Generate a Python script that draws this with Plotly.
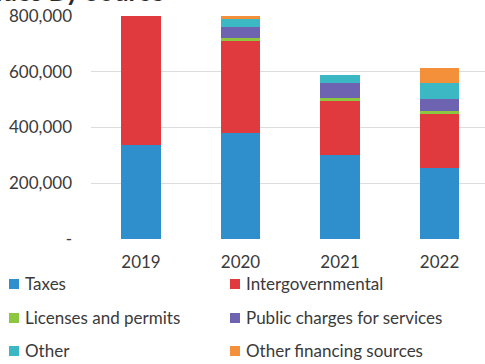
import plotly.graph_objects as go

# Revenue by source, stacked by fiscal year
years = ["2019", "2020", "2021", "2022"]
taxes = [337000, 380000, 301000, 255000]
intergovernmental = [480000, 330000, 194000, 193000]
licenses_permits = [10000, 11000, 11000, 11000]
public_charges = [40000, 39000, 54000, 43000]
other = [30000, 29000, 28000, 58000]
other_financing = [20000, 14000, 0, 53000]

series_names = [
    "Taxes",
    "Intergovernmental",
    "Licenses and permits",
    "Public charges for services",
    "Other",
    "Other financing sources",
]
series_values = [taxes, intergovernmental, licenses_permits,
                 public_charges, other, other_financing]
series_colors = ["#2E8FCC", "#E0393E", "#8DC63F", "#6E63B0", "#3BB8C4", "#F5903A"]

ytick_vals = [0, 200000, 400000, 600000, 800000]
ytick_text = ["-", "200,000", "400,000", "600,000", "800,000"]

FONT = "Lato"
TEXT = "#3A3A3A"
W, H = 485, 364
ML, MT, MB = 91, 16, 125
PLOT_W = W - ML
PLOT_H = H - MT - MB


def px_x(x):
    """pixel column -> paper x"""
    return (x - ML) / PLOT_W


def px_y(y):
    """pixel row -> paper y"""
    return (H - MB - y) / PLOT_H


fig = go.Figure()
for name, vals, color in zip(series_names, series_values, series_colors):
    fig.add_trace(go.Bar(
        x=years, y=vals, name=name, showlegend=False,
        marker=dict(color=color, line=dict(width=0)),
        width=0.4,
    ))

# Two-column legend laid out below the axis
legend_cols = [9, 230]
legend_rows = [283, 317, 350]
shapes, annotations = [], []
for i, (name, color) in enumerate(zip(series_names, series_colors)):
    cx = legend_cols[i % 2]
    cy = legend_rows[i // 2]
    shapes.append(dict(
        type="rect", xref="paper", yref="paper",
        x0=px_x(cx), x1=px_x(cx + 10), y0=px_y(cy + 6), y1=px_y(cy - 4),
        fillcolor=color, line=dict(width=0),
    ))
    annotations.append(dict(
        text=name, xref="paper", yref="paper",
        x=px_x(cx + 14), y=px_y(cy), xanchor="left", yanchor="middle",
        showarrow=False, font=dict(family=FONT, size=17, color=TEXT),
    ))

annotations.append(dict(
    text="<b>Revenues By Source</b>", xref="paper", yref="paper",
    x=px_x(166), y=px_y(9),
    xanchor="right", yanchor="bottom", showarrow=False,
    font=dict(family=FONT, size=26, color="#2B2B2B"),
))

fig.update_layout(
    width=W, height=H,
    margin=dict(l=ML, r=0, t=MT, b=MB, autoexpand=False),
    paper_bgcolor="white", plot_bgcolor="white",
    barmode="stack",
    font=dict(family=FONT, size=17, color=TEXT),
    showlegend=False,
    xaxis=dict(
        type="category", range=[-0.5025, 3.457],
        showgrid=False, showline=False, zeroline=False,
        ticks="", ticklabelstandoff=11, tickangle=0,
        tickfont=dict(family=FONT, size=17, color=TEXT),
    ),
    yaxis=dict(
        range=[0, 800000], tickvals=ytick_vals, ticktext=ytick_text,
        showgrid=True, gridcolor="#DCDCDC", gridwidth=1,
        zeroline=False, showline=False, ticks="",
        ticklabelstandoff=18,
        tickfont=dict(family=FONT, size=17, color=TEXT),
    ),
    shapes=shapes,
    annotations=annotations,
)

fig.write_html("out.html")
